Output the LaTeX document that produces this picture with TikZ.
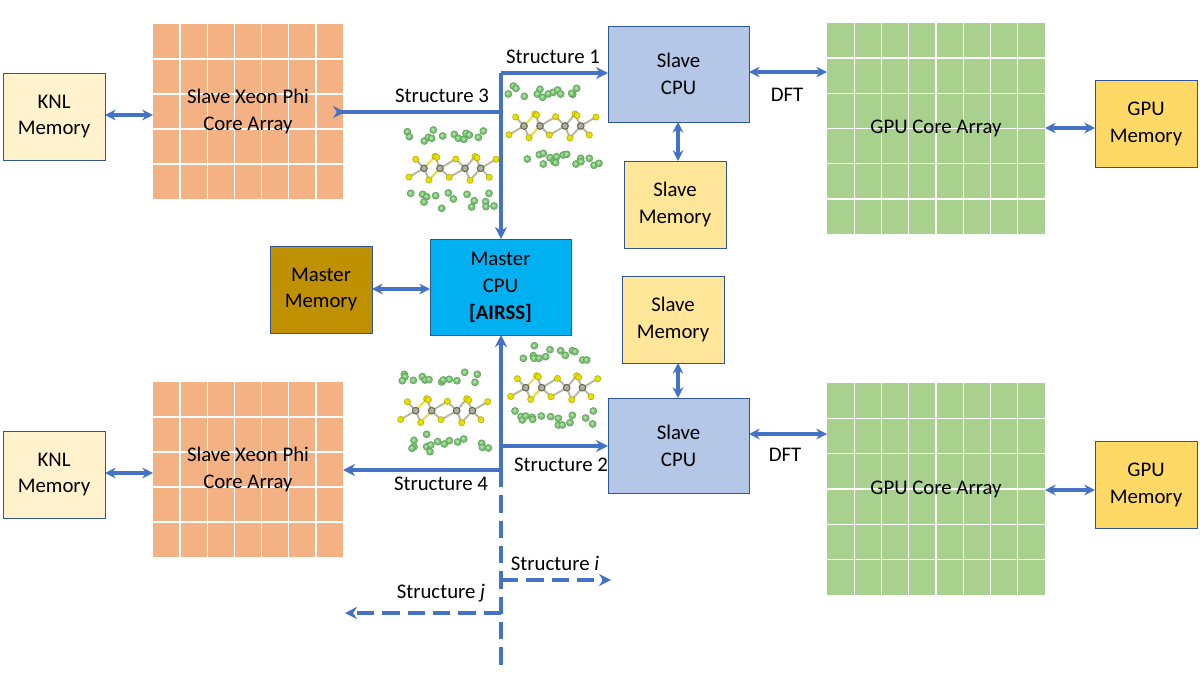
\documentclass[tikz,border=0pt]{standalone}
\usepackage{fontspec}
\setmainfont{Carlito}
\usetikzlibrary{arrows.meta,calc}
\definecolor{arrowblue}{HTML}{4472C4}
\definecolor{edgeblue}{HTML}{2F5597}
\definecolor{knlfill}{HTML}{FFF2CC}
\definecolor{phifill}{HTML}{F4B183}
\definecolor{cpufill}{HTML}{B4C7E7}
\definecolor{memfill}{HTML}{FFE699}
\definecolor{gpufill}{HTML}{A9D18E}
\definecolor{gmemfill}{HTML}{FFD966}
\definecolor{mmemfill}{HTML}{BF9000}
\definecolor{mcpufill}{HTML}{00B0F0}
\definecolor{ballg}{HTML}{76BE70}
\definecolor{ballgl}{HTML}{A9DFA0}
\definecolor{ballge}{HTML}{5E9E5A}
\definecolor{bally}{HTML}{E6E000}
\definecolor{ballye}{HTML}{B5AE00}
\definecolor{ballc}{HTML}{8C8C78}
\definecolor{bondy}{HTML}{E8E24A}
\definecolor{bondc}{HTML}{B9B9A0}
\tikzset{
  x=0.75pt,y=-0.75pt,
  every node/.style={font=\fontsize{15.6}{20.2}\selectfont,text=black,align=center,inner sep=0pt,outer sep=0pt},
  box/.style={draw=edgeblue,line width=0.75pt},
  plain/.style={draw=none},
  link/.style={draw=arrowblue,line width=2.6pt,-{Stealth[length=9pt,width=9pt]}},
  both/.style={draw=arrowblue,line width=2.6pt,{Stealth[length=8pt,width=8pt]}-{Stealth[length=8pt,width=8pt]}},
  bar/.style={draw=arrowblue,line width=2.6pt},
  dashlink/.style={draw=arrowblue,line width=2.6pt,dash pattern=on 13pt off 6pt,-{Stealth[length=9pt,width=9pt]}},
  dashbar/.style={draw=arrowblue,line width=2.6pt,dash pattern=on 13pt off 6pt},
  bondY/.style={draw=bondy,line width=1.5pt},
  bondC/.style={draw=bondc,line width=1.5pt},
}
% name, x1,y1,x2,y2, style, text
\newcommand{\bx}[7]{\node[#6,minimum width={(#4-#2)*0.75pt},minimum height={(#5-#3)*0.75pt}] (#1) at ({(#2+#4)/2},{(#3+#5)/2}) {#7};}
% grid of white lines over a rectangle: x1,y1,x2,y2,cols,rows
\newcommand{\cells}[6]{%
  \foreach \i in {1,...,\numexpr#5-1\relax} \draw[white,line width=1.1pt] ({#1+(#3-#1)*\i/#5},#2) -- ({#1+(#3-#1)*\i/#5},#4);
  \foreach \i in {1,...,\numexpr#6-1\relax} \draw[white,line width=1.1pt] (#1,{#2+(#4-#2)*\i/#6}) -- (#3,{#2+(#4-#2)*\i/#6});
}
% green atoms: origin x,y and list of zoomed positions
\newcommand{\greens}[3]{%
  \foreach \p/\q in {#3} {
    \fill[ballge] ({#1+\p/3},{#2+\q/3}) circle[radius=2.9pt];
    \fill[ballg] ({#1+\p/3},{#2+\q/3}) circle[radius=2.4pt];
    \fill[ballgl] ({#1+\p/3-0.3},{#2+\q/3-0.3}) circle[radius=1.4pt];
  }
}
% S-C chain with first carbon at x,y (pixels)
\newcommand{\chain}[2]{%
  \begin{scope}[shift={(#1,#2)}]
    \foreach \a/\b/\c/\d in {0/0/-8.3/-9, 0/0/-15/8.7, 0/0/5/11.7, 16/0/5/11.7, 16/0/11/-12, 16/0/25.3/9, 16/0/31.7/-9.3,
       41/0/25.3/9, 41/0/31.7/-9.3, 41/0/51/-12, 41/0/46/12, 56.7/0/51/-12, 56.7/0/46/12, 56.7/0/72/-9, 56.7/0/65.3/9}
      \draw[bondC] (\a,\b) -- (\c,\d);
    \foreach \a/\b/\c/\d in {0/0/11/-12, 16/0/5/11.7}
      \draw[bondY] (\a,\b) -- (\c,\d);
    \foreach \a/\b in {-8.3/-9,-15/8.7,5/11.7,11/-12,12.7/-11,31.7/-9.3,25.3/9,51/-12,53/-10.5,46/12,65.3/9,72/-9}
      {\fill[ballye] (\a,\b) circle[radius=2.6pt]; \fill[bally] (\a,\b) circle[radius=2pt];}
    \foreach \a in {0,16,41,56.7}
      {\fill[ballc!70!black] (\a,0) circle[radius=2.9pt]; \fill[ballc!70!white] (\a,0) circle[radius=2pt];}
  \end{scope}
}
\begin{document}
\begin{tikzpicture}
\useasboundingbox (0,0) rectangle (1200,672);

% core arrays
\bx{phiA}{153}{24}{343}{199}{fill=phifill,plain}{}
\cells{153}{24}{343}{199}{7}{5}
\bx{phiB}{153}{382}{343}{557}{fill=phifill,plain}{}
\cells{153}{382}{343}{557}{7}{5}
\bx{gpuA}{827}{23}{1045}{234}{fill=gpufill,plain}{}
\cells{827}{23}{1045}{234}{8}{6}
\bx{gpuB}{827}{383}{1045}{595}{fill=gpufill,plain}{}
\cells{827}{383}{1045}{595}{8}{6}
\node at (phiA.center) {Slave Xeon Phi\\Core Array};
\node at (phiB.center) {Slave Xeon Phi\\Core Array};
\node at (gpuA.center) {GPU Core Array};
\node at (gpuB.center) {GPU Core Array};

% boxes
\bx{knlA}{3}{73}{105}{160}{box,fill=knlfill}{KNL\\Memory}
\bx{knlB}{3}{431}{105}{518}{box,fill=knlfill}{KNL\\Memory}
\bx{cpuA}{608}{26}{749}{122}{box,fill=cpufill}{Slave\\CPU}
\bx{cpuB}{608}{398}{749}{493}{box,fill=cpufill}{Slave\\CPU}
\bx{memA}{624}{161}{726}{248}{box,fill=memfill}{Slave\\Memory}
\bx{memB}{622}{276}{724}{363}{box,fill=memfill}{Slave\\Memory}
\bx{gmemA}{1095}{80}{1197}{167}{box,fill=gmemfill}{GPU\\Memory}
\bx{gmemB}{1095}{441}{1197}{528}{box,fill=gmemfill}{GPU\\Memory}
\bx{mmem}{270}{246}{372}{333}{box,fill=mmemfill}{Master\\Memory}
\bx{mcpu}{430}{239}{571}{335}{box,fill=mcpufill}{Master\\CPU\\\textbf{[AIRSS]}}

% free junctions on the bus
\coordinate (top) at (501,73);
\coordinate (j3) at (501,112);
\coordinate (j2) at (501,446);
\coordinate (j4) at (501,470);
\coordinate (ji) at (501,580);
\coordinate (jj) at (501,613);
\coordinate (bottom) at (501,669);
\coordinate (iend) at (611,580);

% connectors
\draw[bar] (top) -- (j3);
\draw[link] (top) -- (cpuA.west |- top);
\draw[link] (j3) -- (mcpu.north -| j3);
\draw[link] (j3) -- (phiA.east |- j3) -- ++(2,0);
\draw[link] (j4) -- (mcpu.south -| j4);
\draw[link] (j2) -- (cpuB.west |- j2);
\draw[link] (j4) -- (phiB.east |- j4);
\draw[dashbar] (j4) -- (bottom);
\draw[dashlink] (ji) -- (iend);
\coordinate (jend) at (345,613);
\draw[dashlink] (jj) -- (jend);

\draw[both] (knlA.east |- 0,115) -- (phiA.west |- 0,115);
\draw[both] (knlB.east |- 0,473) -- (phiB.west |- 0,473);
\draw[both] (cpuA.east |- 0,72) -- (gpuA.west |- 0,72);
\draw[both] (cpuB.east |- 0,434) -- (gpuB.west |- 0,434);
\draw[both] (gpuA.east |- 0,128) -- (gmemA.west |- 0,128);
\draw[both] (gpuB.east |- 0,490) -- (gmemB.west |- 0,490);
\draw[both] (678,0 |- cpuA.south) -- (678,0 |- memA.north);
\draw[both] (678,0 |- memB.south) -- (678,0 |- cpuB.north);
\draw[both] (mmem.east |- 0,289) -- (mcpu.west |- 0,289);

% labels
\node (s1) at (553,57) {Structure 1};
\node (s3) at (442,96) {Structure 3};
\node (s2) at (561,465) {Structure 2};
\node (s4) at (441,484) {Structure 4};
\node (si) at (555,563) {Structure \textit{i}};
\node (sj) at (441,593) {Structure \textit{j}};
\node (dftA) at (787,95) {DFT};
\node (dftB) at (785,455) {DFT};

% crystal structures
\chain{524}{126}
\chain{424}{168.3}
\chain{525.7}{387.7}
\chain{415.7}{410.7}
\greens{390}{60}{370/78,378/85,355/102,403/109,450/88,442/102,458/112,475/102,490/97,503/90,512/102,548/103,560/85,545/100,412/297,448/284,460/280,460/312,480/293,492/305,500/290,497/308,520/285,530/283,558/312,572/295,573/305,598/295,612/316,627/310}
\greens{390}{60}{52/215,58/230,103/243,115/232,125/235,130/210,158/228,193/223,205/235,222/238,228/220,238/225,265/232,280/213,62/400,98/403,110/410,102/426,137/407,175/399,190/417,231/403,253/422,245/441,297/400,287/425,288/440,312/438,155/445}
\greens{390}{330}{43/133,45/140,37/152,70/151,97/140,105/150,117/149,155/156,160/150,178/148,201/152,224/127,262/133,255/157,110/313,72/331,72/350,66/355,110/350,122/345,120/365,143/335,163/342,178/332,203/336,221/327,275/340,277/352,295/354}
\greens{390}{330}{433/47,400/85,430/77,432/85,447/85,467/80,480/59,512/62,526/76,547/62,555/65,578/90,590/90,375/243,393/260,397/270,407/258,427/262,428/268,454/258,482/260,505/265,505/285,517/285,540/278,547/256,587/264,610/243,608/282}
\end{tikzpicture}
\end{document}
